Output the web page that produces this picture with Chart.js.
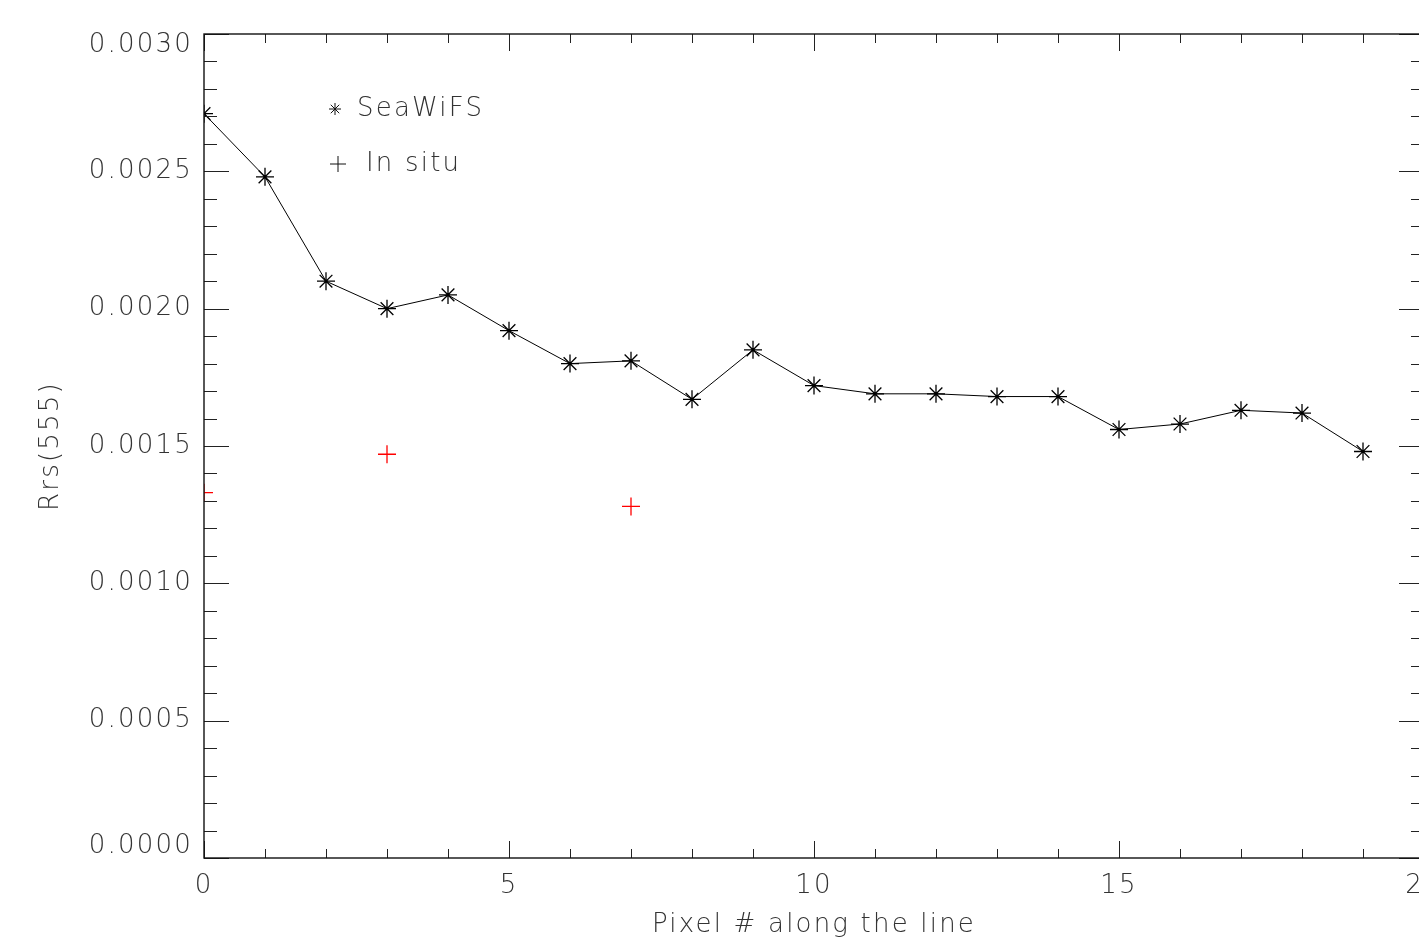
<!DOCTYPE html>
<html>
<head>
<meta charset="utf-8">
<title>Rrs(555) along the line</title>
<script src="https://cdn.jsdelivr.net/npm/chart.js@4.4.1/dist/chart.umd.min.js"></script>
<style>
	html, body { margin: 0; padding: 0; background: #fff; overflow: hidden; }
	#wrap { position: relative; width: 1460px; height: 941px; }
</style>
</head>
<body>
<div id="wrap"><canvas id="chart"></canvas></div>
<script>
// pixel index along the line and the values
const pixels = [0, 1, 2, 3, 4, 5, 6, 7, 8, 9, 10, 11, 12, 13, 14, 15, 16, 17, 18, 19];
const seawifsRrs = [0.00271, 0.00248, 0.00210, 0.00200, 0.00205, 0.00192, 0.00180, 0.00181, 0.00167, 0.00185,
	0.00172, 0.00169, 0.00169, 0.00168, 0.00168, 0.00156, 0.00158, 0.00163, 0.00162, 0.00148];
const insituPixels = [0, 3, 7];
const insituRrs = [0.00133, 0.00147, 0.00128];

// tick labels
const xTickLabels = ['0', '5', '10', '15', '20'];
const yTickLabels = ['0.0000', '0.0005', '0.0010', '0.0015', '0.0020', '0.0025', '0.0030'];

const textColor = '#333';
const fontFamily = '"DejaVu Sans", "Liberation Sans", sans-serif';
const labelFont = {family: fontFamily, size: 26, weight: 300, lineHeight: 0.88};

// canvas letter spacing, to get close to the wide IDL vector font
function setSpacing(chart) {
	chart.ctx.letterSpacing = '2.2px';
}

// IDL style ticks: pointing inward on all four sides, longer on the major ones
const idlAxes = {
	id: 'idlAxes',
	beforeUpdate: setSpacing,
	beforeDraw: setSpacing,
	afterDraw(chart) {
		const ctx = chart.ctx;
		const a = chart.chartArea;
		const xs = chart.scales.x;
		const ys = chart.scales.y;
		ctx.save();
		ctx.strokeStyle = '#222';
		ctx.lineWidth = 1;
		ctx.beginPath();
		xs.ticks.forEach(function(t, i) {
			let px = Math.round(xs.getPixelForValue(t.value)) + 0.5;
			let len = (i % 5 == 0) ? 17 : 9;
			ctx.moveTo(px, a.bottom); ctx.lineTo(px, a.bottom - len);
			ctx.moveTo(px, a.top); ctx.lineTo(px, a.top + len);
		});
		ys.ticks.forEach(function(t, i) {
			let py = Math.round(ys.getPixelForValue(t.value)) + 0.5;
			let len = (i % 5 == 0) ? 25 : 13;
			ctx.moveTo(a.left, py); ctx.lineTo(a.left + len, py);
			ctx.moveTo(a.right, py); ctx.lineTo(a.right - len, py);
		});
		ctx.stroke();

		// frame
		ctx.strokeStyle = '#111';
		ctx.lineWidth = 1.4;
		ctx.strokeRect(a.left, a.top, a.right - a.left, a.bottom - a.top);

		// legend
		ctx.fillStyle = textColor;
		ctx.font = '300 26px ' + fontFamily;
		ctx.textBaseline = 'middle';
		ctx.textAlign = 'left';
		ctx.fillText('SeaWiFS', a.left + 153, a.top + 75);
		ctx.fillText('In situ', a.left + 162, a.top + 130);
		ctx.strokeStyle = '#111';
		ctx.lineWidth = 1;
		Chart.helpers.drawPoint(ctx, {pointStyle: 'star', radius: 6, rotation: 0, borderWidth: 1}, a.left + 131, a.top + 75);
		Chart.helpers.drawPoint(ctx, {pointStyle: 'cross', radius: 8, rotation: 0, borderWidth: 1}, a.left + 134, a.top + 130);
		ctx.restore();
	}
};

// end labels of the y axis sit just inside the frame, as in IDL
function yLabel(v, i) {
	if (i % 5 != 0) return '';
	let txt = yTickLabels[i / 5];
	if (i == 0) return [txt, ''];
	if (i / 5 == yTickLabels.length - 1) return ['', txt];
	return txt;
}

new Chart(document.getElementById('chart'), {
	type: 'scatter',
	data: {
		datasets: [
			{
				label: 'SeaWiFS',
				data: pixels.map((p, i) => ({x: p, y: seawifsRrs[i]})),
				showLine: true,
				borderColor: '#000',
				borderWidth: 1,
				pointStyle: 'star',
				pointRadius: 9,
				pointBorderWidth: 1.3,
				pointBorderColor: '#000',
				clip: 0
			},
			{
				label: 'In situ',
				data: insituPixels.map((p, i) => ({x: p, y: insituRrs[i]})),
				showLine: false,
				pointStyle: 'cross',
				pointRadius: 9,
				pointBorderWidth: 1.3,
				pointBorderColor: '#ff0000',
				clip: 0
			}
		]
	},
	options: {
		responsive: true,
		maintainAspectRatio: false,
		animation: false,
		layout: {padding: {top: 34, right: 36, left: 0, bottom: 0}},
		plugins: {
			legend: {display: false},
			tooltip: {enabled: false}
		},
		scales: {
			x: {
				type: 'linear',
				min: 0,
				max: 20,
				grid: {display: false, drawTicks: false},
				border: {display: false},
				ticks: {
					stepSize: 1,
					maxTicksLimit: 40,
					autoSkip: false,
					maxRotation: 0,
					padding: 17,
					color: textColor,
					font: labelFont,
					callback: (v, i) => (i % 5 == 0) ? xTickLabels[i / 5] : ''
				},
				title: {
					display: true,
					text: 'Pixel # along the line',
					color: textColor,
					font: {family: fontFamily, size: 26, weight: 300},
					padding: {top: 0, bottom: 0}
				},
				afterFit: s => { s.height = 83; }
			},
			y: {
				type: 'linear',
				min: 0,
				max: 0.003,
				grid: {display: false, drawTicks: false},
				border: {display: false},
				ticks: {
					stepSize: 0.0001,
					maxTicksLimit: 40,
					autoSkip: false,
					padding: 11,
					color: textColor,
					font: labelFont,
					callback: yLabel
				},
				title: {
					display: true,
					text: 'Rrs(555)',
					color: textColor,
					font: {family: fontFamily, size: 26, weight: 300},
					padding: {top: 36, bottom: 0}
				},
				afterFit: s => {
					s.width = 204;
					s.paddingTop = 0;
					s.paddingBottom = 0;
				}
			}
		}
	},
	plugins: [idlAxes]
});
</script>
</body>
</html>
